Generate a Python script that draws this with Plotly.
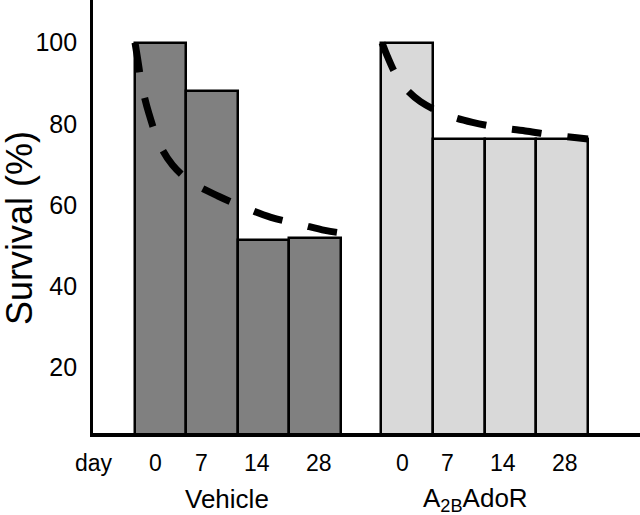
import plotly.graph_objects as go

# ---- data ----
days = ["0", "7", "14", "28"]
vehicle_survival = [100, 88.1, 51.4, 51.9]
a2b_survival = [100, 76.3, 76.3, 76.3]
group_names = ["Vehicle", "A<sub>2B</sub>AdoR"]

# fitted survival curves (x in bar-slot units, y in %)
vehicle_curve_x = [-0.494, -0.446, -0.359, -0.223, -0.010, 0.233, 0.572, 1.124, 1.638, 2.141, 2.703, 3.188, 3.479]
vehicle_curve_y = [100, 96.3, 89.4, 82.5, 74.8, 69.9, 65.9, 62.2, 59.4, 57.0, 55.3, 53.8, 53.2]
a2b_curve_x = [4.293, 4.409, 4.564, 4.738, 5.039, 5.514, 6.047, 6.579, 7.112, 7.645, 8.285]
a2b_curve_y = [100, 96.3, 92.1, 88.9, 85.5, 82.4, 80.4, 79.1, 78.2, 77.2, 76.3]

y_ticks = [20, 40, 60, 80, 100]

# ---- layout helpers (positions / styles) ----
vehicle_pos = [0, 1, 2, 3]
a2b_pos = [4.78, 5.78, 6.78, 7.78]
label_xshift = [-5, -11, -7, 3.5]
FONT = "Arial, Liberation Sans, sans-serif"

fig = go.Figure()
fig.add_trace(go.Bar(x=vehicle_pos, y=vehicle_survival, width=1,
                     marker=dict(color="#808080", line=dict(color="black", width=2.5)),
                     showlegend=False))
fig.add_trace(go.Bar(x=a2b_pos, y=a2b_survival, width=1,
                     marker=dict(color="#d9d9d9", line=dict(color="black", width=2.5)),
                     showlegend=False))
for cx, cy in [(vehicle_curve_x, vehicle_curve_y), (a2b_curve_x, a2b_curve_y)]:
    fig.add_trace(go.Scatter(x=cx, y=cy, mode="lines",
                             line=dict(color="black", width=7, dash="30px,26px", shape="spline"),
                             showlegend=False))

annotations = []
for pos_list in (vehicle_pos, a2b_pos):
    for p, d, s in zip(pos_list, days, label_xshift):
        annotations.append(dict(x=p, y=0, xref="x", yref="paper", text=d, showarrow=False,
                                xanchor="center", yanchor="middle", xshift=s, yshift=-30,
                                font=dict(family=FONT, size=23, color="black")))
annotations.append(dict(x=-1.29, y=0, xref="x", yref="paper", text="day", showarrow=False,
                        xanchor="center", yanchor="middle", yshift=-30,
                        font=dict(family=FONT, size=23, color="black")))
for pos_list, name, s in [(vehicle_pos, group_names[0], -11), (a2b_pos, group_names[1], -9)]:
    annotations.append(dict(x=sum(pos_list) / len(pos_list), y=0, xref="x", yref="paper",
                            text=name, showarrow=False, xanchor="center", yanchor="middle",
                            xshift=s, yshift=-66,
                            font=dict(family=FONT, size=26, color="black")))
annotations.append(dict(x=0, y=(433 - 228) / 433, xref="paper", yref="paper",
                        text="Survival (%)", textangle=-90, showarrow=False,
                        xanchor="center", yanchor="middle", xshift=-74,
                        font=dict(family=FONT, size=36, color="black")))

fig.update_layout(
    width=640, height=515,
    margin=dict(l=93, r=0, t=0, b=82),
    paper_bgcolor="white", plot_bgcolor="white",
    bargap=0,
    annotations=annotations,
    xaxis=dict(range=[-1.308, 9.293], showgrid=False, zeroline=False, showticklabels=False,
               ticks="", showline=True, linecolor="black", linewidth=3.5),
    yaxis=dict(range=[3.94, 110.5], showgrid=False, zeroline=False,
               tickvals=y_ticks, ticktext=[str(v) for v in y_ticks],
               ticks="", ticklabelstandoff=8,
               tickfont=dict(family=FONT, size=25, color="black"),
               showline=True, linecolor="black", linewidth=2.7),
)

fig.write_html("out.html", config={"displayModeBar": False},
               post_script="document.body.style.margin='0';")
